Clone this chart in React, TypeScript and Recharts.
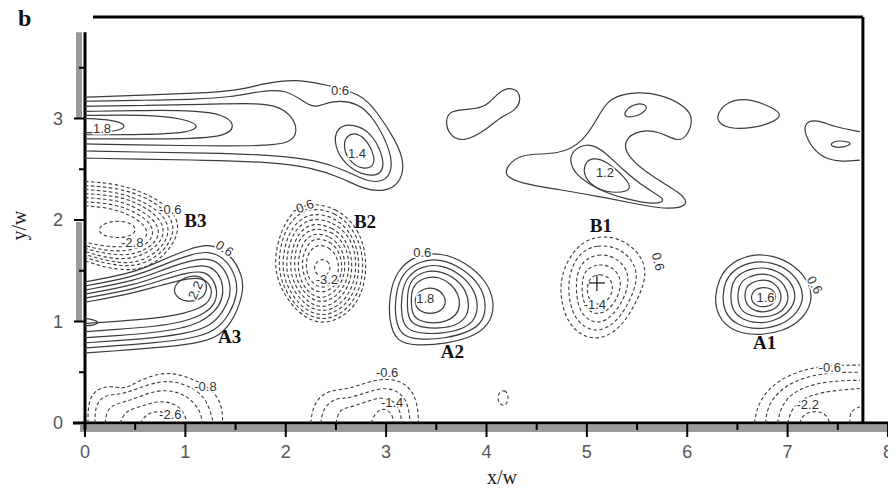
import React from "react";
import { ComposedChart, Line, XAxis, YAxis, Scatter, ReferenceLine } from "recharts";

type Pt = [number, number];

// ---- positive contours (solid) ----
// upper band, open at the left edge
const bandL1: Pt[] = [[0, 3.21], [0.6, 3.23], [1.1, 3.25], [1.5, 3.27], [1.8, 3.35], [2.1, 3.39], [2.42, 3.33], [2.75, 3.24], [2.9, 3.08], [3.1, 2.78], [3.19, 2.55], [3.13, 2.35], [2.98, 2.28], [2.78, 2.3], [2.55, 2.42], [2.25, 2.52], [1.85, 2.57], [1.2, 2.59], [0.5, 2.6], [0, 2.61]];
const bandL2: Pt[] = [[0, 3.17], [0.6, 3.18], [1.1, 3.19], [1.45, 3.21], [1.75, 3.27], [2.0, 3.29], [2.2, 3.15], [2.3, 3.1], [2.45, 3.18], [2.72, 3.16], [2.88, 3.0], [3.03, 2.72], [3.07, 2.5], [2.98, 2.37], [2.8, 2.38], [2.6, 2.49], [2.3, 2.59], [1.9, 2.64], [1.2, 2.66], [0.5, 2.67], [0, 2.68]];
const bandL3: Pt[] = [[0, 3.12], [0.6, 3.13], [1.2, 3.14], [1.6, 3.15], [1.9, 3.14], [2.07, 3.02], [2.12, 2.87], [2.05, 2.76], [1.8, 2.73], [1.2, 2.73], [0.5, 2.74], [0, 2.75]];
const bandL4: Pt[] = [[0, 3.07], [0.6, 3.08], [1.1, 3.08], [1.38, 3.04], [1.5, 2.94], [1.42, 2.83], [1.1, 2.8], [0.5, 2.8], [0, 2.8]];
const bandL5: Pt[] = [[0, 3.03], [0.6, 3.04], [0.98, 3.0], [1.15, 2.93], [1.05, 2.86], [0.6, 2.84], [0, 2.84]];
const bandL6: Pt[] = [[0, 3.0], [0.25, 2.99], [0.42, 2.94], [0.36, 2.88], [0.1, 2.86], [0, 2.86]];
const b2Ring2: Pt[] = [[2.5, 2.92], [2.68, 2.95], [2.85, 2.86], [2.96, 2.66], [2.98, 2.5], [2.9, 2.43], [2.75, 2.45], [2.6, 2.54], [2.48, 2.72]];
const b2Ring1: Pt[] = [[2.6, 2.84], [2.72, 2.86], [2.82, 2.77], [2.89, 2.62], [2.87, 2.52], [2.77, 2.5], [2.65, 2.56], [2.57, 2.7]];

// upper right blobs
const blobWest: Pt[] = [[3.59, 2.99], [3.64, 3.08], [3.83, 3.09], [4.0, 3.11], [4.13, 3.28], [4.28, 3.31], [4.35, 3.21], [4.3, 3.08], [4.13, 3.01], [4.0, 2.89], [3.77, 2.76], [3.62, 2.84]];
const b1Outer: Pt[] = [[4.2, 2.52], [4.33, 2.66], [4.73, 2.64], [4.96, 2.77], [5.1, 2.99], [5.2, 3.18], [5.4, 3.26], [5.73, 3.25], [6.0, 3.11], [6.06, 2.99], [6.0, 2.82], [5.9, 2.77], [5.73, 2.87], [5.53, 2.89], [5.36, 2.79], [5.4, 2.62], [5.66, 2.42], [5.93, 2.27], [6.03, 2.15], [5.83, 2.1], [5.53, 2.15], [5.13, 2.23], [4.73, 2.3], [4.33, 2.36], [4.18, 2.44]];
const b1Hook: Pt[] = [[5.37, 3.06], [5.45, 3.14], [5.58, 3.15], [5.61, 3.09], [5.5, 3.02], [5.38, 3.01]];
const b1Ring2: Pt[] = [[4.85, 2.68], [5.0, 2.76], [5.15, 2.7], [5.35, 2.5], [5.6, 2.3], [5.8, 2.2], [5.7, 2.15], [5.4, 2.2], [5.1, 2.3], [4.88, 2.45], [4.83, 2.58]];
const b1Ring3: Pt[] = [[4.97, 2.55], [5.05, 2.62], [5.2, 2.58], [5.38, 2.42], [5.46, 2.3], [5.3, 2.26], [5.1, 2.3], [4.97, 2.42]];
const blobEast: Pt[] = [[6.3, 3.05], [6.4, 3.17], [6.6, 3.2], [6.8, 3.13], [6.95, 3.05], [6.88, 2.97], [6.65, 2.9], [6.4, 2.9], [6.3, 2.97]];
const blobEdge: Pt[] = [[7.72, 2.87], [7.45, 2.92], [7.3, 2.99], [7.15, 2.96], [7.19, 2.79], [7.32, 2.62], [7.52, 2.57], [7.72, 2.59]];
const blobEdgeIn: Pt[] = [[7.42, 2.75], [7.5, 2.79], [7.67, 2.76], [7.55, 2.71], [7.45, 2.72]];

// A3, open at the left edge
const a3R1: Pt[] = [[0, 1.39], [0.5, 1.48], [0.8, 1.62], [1.05, 1.72], [1.25, 1.77], [1.45, 1.67], [1.57, 1.45], [1.58, 1.3], [1.5, 1.05], [1.35, 0.85], [1.1, 0.78], [0.7, 0.74], [0.3, 0.71], [0, 0.69]];
const a3R2: Pt[] = [[0, 1.35], [0.5, 1.44], [0.8, 1.57], [1.05, 1.66], [1.25, 1.7], [1.42, 1.6], [1.51, 1.42], [1.52, 1.28], [1.45, 1.08], [1.3, 0.9], [1.05, 0.83], [0.7, 0.79], [0.3, 0.76], [0, 0.74]];
const a3R3: Pt[] = [[0, 1.31], [0.5, 1.4], [0.8, 1.52], [1.05, 1.6], [1.25, 1.63], [1.38, 1.54], [1.45, 1.38], [1.45, 1.25], [1.38, 1.1], [1.25, 0.95], [1.0, 0.88], [0.7, 0.84], [0.3, 0.81], [0, 0.79]];
const a3R4: Pt[] = [[0, 1.27], [0.5, 1.36], [0.8, 1.47], [1.05, 1.54], [1.22, 1.56], [1.33, 1.48], [1.38, 1.35], [1.37, 1.22], [1.3, 1.1], [1.15, 0.99], [0.95, 0.93], [0.7, 0.89], [0.3, 0.86], [0, 0.84]];
const a3R5: Pt[] = [[0, 1.23], [0.5, 1.32], [0.8, 1.42], [1.02, 1.48], [1.18, 1.5], [1.28, 1.42], [1.32, 1.3], [1.3, 1.18], [1.2, 1.08], [1.0, 1.0], [0.7, 0.95], [0.3, 0.92], [0, 0.9]];
const a3R6: Pt[] = [[0, 1.19], [0.4, 1.26], [0.7, 1.34], [0.95, 1.41], [1.15, 1.44], [1.25, 1.37], [1.27, 1.26], [1.2, 1.15], [1.0, 1.08], [0.7, 1.03], [0.3, 1.0], [0, 0.98]];
const a3Edge: Pt[] = [[0, 1.03], [0.08, 1.02], [0.15, 0.99], [0.08, 0.96], [0, 0.96]];
const a3Core: Pt[] = [[0.88, 1.33], [0.95, 1.42], [1.1, 1.46], [1.2, 1.42], [1.22, 1.3], [1.15, 1.21], [1.0, 1.19], [0.9, 1.25]];

// A2
const a2R1: Pt[] = [[3.1, 1.5], [3.3, 1.66], [3.55, 1.68], [3.8, 1.58], [4.0, 1.4], [4.08, 1.2], [4.05, 1.0], [3.9, 0.86], [3.6, 0.78], [3.3, 0.76], [3.1, 0.8], [3.03, 1.0], [3.03, 1.25]];
const a2R2: Pt[] = [[3.15, 1.47], [3.33, 1.6], [3.55, 1.62], [3.77, 1.52], [3.94, 1.36], [4.0, 1.18], [3.97, 1.0], [3.84, 0.9], [3.58, 0.83], [3.32, 0.82], [3.15, 0.86], [3.09, 1.02], [3.09, 1.25]];
const a2R3: Pt[] = [[3.2, 1.44], [3.36, 1.55], [3.55, 1.56], [3.74, 1.47], [3.87, 1.33], [3.92, 1.17], [3.89, 1.02], [3.78, 0.93], [3.56, 0.88], [3.35, 0.88], [3.2, 0.92], [3.15, 1.05], [3.15, 1.26]];
const a2R4: Pt[] = [[3.24, 1.41], [3.38, 1.5], [3.54, 1.5], [3.7, 1.42], [3.8, 1.3], [3.83, 1.16], [3.8, 1.04], [3.7, 0.96], [3.53, 0.93], [3.37, 0.94], [3.25, 0.98], [3.21, 1.08], [3.21, 1.27]];
const a2R5: Pt[] = [[3.28, 1.37], [3.4, 1.44], [3.53, 1.44], [3.65, 1.37], [3.72, 1.27], [3.74, 1.16], [3.7, 1.06], [3.6, 1.0], [3.47, 0.98], [3.35, 1.0], [3.27, 1.05], [3.25, 1.15], [3.25, 1.28]];
const a2R6: Pt[] = [[3.3, 1.27], [3.38, 1.33], [3.5, 1.33], [3.58, 1.26], [3.6, 1.18], [3.55, 1.1], [3.44, 1.07], [3.33, 1.1], [3.28, 1.18]];

// A1
const a1R1: Pt[] = [[6.4, 1.55], [6.6, 1.66], [6.85, 1.66], [7.08, 1.55], [7.22, 1.38], [7.25, 1.2], [7.15, 1.02], [6.95, 0.9], [6.7, 0.86], [6.45, 0.9], [6.3, 1.05], [6.27, 1.25], [6.32, 1.42]];
const a1R2: Pt[] = [[6.45, 1.5], [6.62, 1.59], [6.84, 1.59], [7.03, 1.5], [7.14, 1.35], [7.16, 1.2], [7.07, 1.05], [6.9, 0.95], [6.7, 0.92], [6.5, 0.96], [6.37, 1.08], [6.35, 1.26], [6.38, 1.4]];
const a1R3: Pt[] = [[6.5, 1.46], [6.65, 1.53], [6.83, 1.53], [6.98, 1.45], [7.07, 1.33], [7.08, 1.2], [7.0, 1.08], [6.86, 1.0], [6.7, 0.98], [6.54, 1.02], [6.44, 1.12], [6.43, 1.27], [6.45, 1.38]];
const a1R4: Pt[] = [[6.55, 1.41], [6.68, 1.47], [6.82, 1.47], [6.94, 1.4], [7.0, 1.3], [7.01, 1.2], [6.95, 1.1], [6.84, 1.05], [6.71, 1.04], [6.58, 1.07], [6.51, 1.15], [6.5, 1.27], [6.52, 1.35]];
const a1R5: Pt[] = [[6.6, 1.36], [6.7, 1.41], [6.82, 1.41], [6.9, 1.35], [6.94, 1.27], [6.93, 1.18], [6.87, 1.12], [6.78, 1.09], [6.68, 1.1], [6.6, 1.15], [6.57, 1.23], [6.58, 1.31]];
const a1R6: Pt[] = [[6.65, 1.3], [6.73, 1.34], [6.84, 1.33], [6.89, 1.26], [6.87, 1.18], [6.79, 1.14], [6.69, 1.15], [6.63, 1.21]];

// ---- negative contours (dashed) ----
const b3R1: Pt[] = [[0, 2.38], [0.3, 2.36], [0.6, 2.27], [0.85, 2.12], [0.95, 1.95], [0.88, 1.75], [0.7, 1.57], [0.5, 1.5], [0.25, 1.52], [0.05, 1.58], [0, 1.6]];
const b3R1b: Pt[] = [[0, 2.34], [0.3, 2.32], [0.58, 2.24], [0.82, 2.09], [0.9, 1.92], [0.83, 1.74], [0.66, 1.6], [0.48, 1.54], [0.25, 1.56], [0, 1.63]];
const b3R2: Pt[] = [[0, 2.3], [0.3, 2.28], [0.55, 2.2], [0.78, 2.06], [0.85, 1.9], [0.78, 1.74], [0.62, 1.62], [0.45, 1.57], [0.25, 1.59], [0, 1.66]];
const b3R2b: Pt[] = [[0, 2.26], [0.3, 2.24], [0.53, 2.17], [0.74, 2.03], [0.8, 1.88], [0.73, 1.75], [0.57, 1.65], [0.4, 1.61], [0.2, 1.63], [0, 1.69]];
const b3R3: Pt[] = [[0, 2.22], [0.3, 2.2], [0.5, 2.13], [0.7, 2.0], [0.75, 1.87], [0.68, 1.75], [0.52, 1.67], [0.35, 1.65], [0.15, 1.68], [0, 1.72]];
const b3R3b: Pt[] = [[0, 2.18], [0.28, 2.16], [0.48, 2.09], [0.65, 1.98], [0.69, 1.86], [0.62, 1.76], [0.46, 1.7], [0.28, 1.69], [0.1, 1.72], [0, 1.75]];
const b3R4: Pt[] = [[0, 2.14], [0.25, 2.12], [0.45, 2.05], [0.6, 1.95], [0.63, 1.85], [0.55, 1.77], [0.4, 1.73], [0.2, 1.74], [0, 1.78]];
const b3Core: Pt[] = [[0.15, 1.95], [0.3, 2.0], [0.48, 1.97], [0.52, 1.88], [0.4, 1.82], [0.22, 1.83], [0.13, 1.88]];

const b2nR1: Pt[] = [[2.25, 2.17], [2.5, 2.12], [2.7, 1.95], [2.8, 1.7], [2.8, 1.4], [2.7, 1.15], [2.5, 1.0], [2.3, 0.98], [2.1, 1.1], [1.93, 1.35], [1.88, 1.6], [1.95, 1.9], [2.08, 2.1]];
const b2nR1b: Pt[] = [[2.26, 2.12], [2.49, 2.08], [2.67, 1.92], [2.77, 1.69], [2.77, 1.41], [2.67, 1.17], [2.48, 1.03], [2.3, 1.02], [2.11, 1.13], [1.96, 1.36], [1.92, 1.6], [1.98, 1.88], [2.1, 2.05]];
const b2nR2: Pt[] = [[2.27, 2.07], [2.48, 2.03], [2.64, 1.89], [2.73, 1.68], [2.73, 1.42], [2.64, 1.2], [2.47, 1.07], [2.3, 1.06], [2.13, 1.16], [1.99, 1.38], [1.96, 1.6], [2.02, 1.86], [2.13, 2.0]];
const b2nR2b: Pt[] = [[2.28, 2.02], [2.47, 1.98], [2.62, 1.86], [2.7, 1.67], [2.7, 1.43], [2.61, 1.23], [2.46, 1.11], [2.3, 1.1], [2.15, 1.2], [2.02, 1.4], [2.0, 1.6], [2.05, 1.83], [2.15, 1.96]];
const b2nR3: Pt[] = [[2.29, 1.97], [2.46, 1.93], [2.59, 1.82], [2.66, 1.65], [2.66, 1.44], [2.58, 1.26], [2.44, 1.15], [2.31, 1.14], [2.17, 1.23], [2.06, 1.41], [2.04, 1.6], [2.09, 1.81], [2.18, 1.92]];
const b2nR3b: Pt[] = [[2.3, 1.92], [2.45, 1.89], [2.57, 1.79], [2.63, 1.64], [2.63, 1.45], [2.55, 1.29], [2.43, 1.2], [2.31, 1.19], [2.19, 1.27], [2.1, 1.42], [2.08, 1.6], [2.12, 1.79], [2.2, 1.88]];
const b2nR4: Pt[] = [[2.31, 1.87], [2.44, 1.84], [2.54, 1.75], [2.59, 1.62], [2.59, 1.46], [2.52, 1.32], [2.41, 1.24], [2.31, 1.23], [2.21, 1.3], [2.13, 1.44], [2.12, 1.6], [2.16, 1.76], [2.23, 1.84]];
const b2nR4b: Pt[] = [[2.32, 1.82], [2.44, 1.79], [2.52, 1.71], [2.56, 1.59], [2.56, 1.46], [2.49, 1.35], [2.4, 1.29], [2.3, 1.29], [2.22, 1.36], [2.17, 1.48], [2.16, 1.62], [2.21, 1.74], [2.26, 1.8]];
const b2nR5: Pt[] = [[2.33, 1.76], [2.43, 1.73], [2.5, 1.66], [2.53, 1.56], [2.52, 1.45], [2.46, 1.37], [2.38, 1.33], [2.3, 1.35], [2.23, 1.42], [2.2, 1.53], [2.21, 1.64], [2.26, 1.72]];
const b2nR6: Pt[] = [[2.35, 1.62], [2.42, 1.6], [2.45, 1.53], [2.42, 1.46], [2.35, 1.44], [2.29, 1.48], [2.28, 1.56]];

const b1nR1: Pt[] = [[4.9, 1.75], [5.1, 1.85], [5.35, 1.82], [5.55, 1.65], [5.6, 1.45], [5.5, 1.2], [5.35, 0.95], [5.15, 0.82], [4.95, 0.85], [4.8, 1.0], [4.73, 1.25], [4.75, 1.5]];
const b1nR2: Pt[] = [[4.93, 1.68], [5.1, 1.76], [5.32, 1.73], [5.47, 1.59], [5.51, 1.42], [5.43, 1.2], [5.3, 1.0], [5.14, 0.9], [4.98, 0.93], [4.86, 1.06], [4.81, 1.28], [4.83, 1.5]];
const b1nR3: Pt[] = [[4.96, 1.6], [5.11, 1.67], [5.28, 1.64], [5.4, 1.52], [5.42, 1.38], [5.36, 1.2], [5.25, 1.05], [5.13, 0.98], [5.01, 1.01], [4.92, 1.12], [4.89, 1.3], [4.9, 1.47]];
const b1nR4: Pt[] = [[5.0, 1.52], [5.12, 1.57], [5.25, 1.54], [5.33, 1.45], [5.34, 1.34], [5.29, 1.2], [5.2, 1.1], [5.1, 1.07], [5.02, 1.1], [4.96, 1.2], [4.95, 1.33], [4.96, 1.44]];
const b1nR5: Pt[] = [[5.04, 1.44], [5.13, 1.47], [5.22, 1.44], [5.26, 1.36], [5.25, 1.27], [5.19, 1.19], [5.1, 1.16], [5.03, 1.2], [5.0, 1.29], [5.01, 1.38]];

// near the floor, open at y = 0
const blR1: Pt[] = [[0.03, 0], [0.03, 0.2], [0.1, 0.33], [0.25, 0.37], [0.4, 0.33], [0.5, 0.4], [0.75, 0.5], [0.95, 0.48], [1.15, 0.4], [1.3, 0.3], [1.37, 0.15], [1.37, 0]];
const blR2: Pt[] = [[0.1, 0], [0.1, 0.18], [0.2, 0.28], [0.35, 0.28], [0.5, 0.33], [0.75, 0.42], [0.95, 0.4], [1.1, 0.33], [1.22, 0.22], [1.28, 0]];
const blR3: Pt[] = [[0.2, 0], [0.22, 0.15], [0.35, 0.2], [0.5, 0.24], [0.72, 0.33], [0.92, 0.31], [1.05, 0.24], [1.15, 0.12], [1.17, 0]];
const blR4: Pt[] = [[0.35, 0], [0.4, 0.12], [0.55, 0.16], [0.72, 0.22], [0.88, 0.2], [0.98, 0.12], [1.02, 0]];
const blR5: Pt[] = [[0.55, 0], [0.62, 0.1], [0.75, 0.12], [0.85, 0.08], [0.88, 0]];
const bmR1: Pt[] = [[2.25, 0], [2.27, 0.18], [2.4, 0.32], [2.6, 0.33], [2.75, 0.38], [2.95, 0.44], [3.15, 0.42], [3.28, 0.3], [3.32, 0.12], [3.32, 0]];
const bmR2: Pt[] = [[2.35, 0], [2.37, 0.15], [2.5, 0.25], [2.62, 0.24], [2.8, 0.3], [2.97, 0.35], [3.12, 0.32], [3.22, 0.2], [3.24, 0]];
const bmR3: Pt[] = [[2.5, 0], [2.53, 0.13], [2.62, 0.15], [2.78, 0.2], [2.95, 0.26], [3.08, 0.22], [3.15, 0.1], [3.15, 0]];
const bmR4: Pt[] = [[2.85, 0], [2.9, 0.12], [3.0, 0.15], [3.07, 0.07], [3.07, 0]];
const brR1: Pt[] = [[6.67, 0], [6.7, 0.18], [6.82, 0.35], [7.0, 0.47], [7.25, 0.55], [7.5, 0.57], [7.72, 0.57]];
const brR2: Pt[] = [[6.78, 0], [6.8, 0.17], [6.92, 0.32], [7.08, 0.42], [7.3, 0.48], [7.5, 0.5], [7.72, 0.5]];
const brR3: Pt[] = [[6.9, 0], [6.93, 0.15], [7.02, 0.27], [7.15, 0.35], [7.35, 0.4], [7.55, 0.42], [7.72, 0.42]];
const brR4: Pt[] = [[7.0, 0], [7.03, 0.12], [7.12, 0.22], [7.25, 0.28], [7.45, 0.32], [7.72, 0.34]];
const brR5: Pt[] = [[7.12, 0], [7.15, 0.08], [7.25, 0.12], [7.38, 0.1], [7.42, 0]];
const brEdge: Pt[] = [[7.62, 0], [7.62, 0.12], [7.72, 0.16]];
const dot42: Pt[] = [[4.13, 0.3], [4.18, 0.33], [4.22, 0.28], [4.21, 0.2], [4.17, 0.16], [4.12, 0.2], [4.11, 0.26]];

const solidOpen = [bandL1, bandL2, bandL3, bandL4, bandL5, bandL6, blobEdge, a3R1, a3R2, a3R3, a3R4, a3R5, a3R6, a3Edge];
const solidClosed = [b2Ring2, b2Ring1, blobWest, b1Outer, b1Hook, b1Ring2, b1Ring3, blobEast, blobEdgeIn, a3Core, a2R1, a2R2, a2R3, a2R4, a2R5, a2R6, a1R1, a1R2, a1R3, a1R4, a1R5, a1R6];
const dashedOpen = [b3R1, b3R1b, b3R2, b3R2b, b3R3, b3R3b, b3R4, blR1, blR2, blR3, blR4, blR5, bmR1, bmR2, bmR3, bmR4, brR1, brR2, brR3, brR4, brR5, brEdge];
const dashedClosed = [b3Core, b2nR1, b2nR1b, b2nR2, b2nR2b, b2nR3, b2nR3b, b2nR4, b2nR4b, b2nR5, b2nR6, b1nR1, b1nR2, b1nR3, b1nR4, b1nR5, dot42];

// structure names
const regionNames = ["B3", "B2", "B1", "A3", "A2", "A1"];
const regionX = [1.1, 2.79, 5.14, 1.44, 3.66, 6.77];
const regionY = [2.0, 1.99, 1.95, 0.85, 0.7, 0.79];

// contour level labels
const levelText = ["0.6", "1.8", "1.4", "1.2", "-0.6", "-2.8", "0.6", "2.2", "-0.6", "-3.2", "0.6", "1.8", "-1.4", "0.6", "1.6", "0.6", "-0.8", "-2.6", "-0.6", "-1.4", "-0.6", "-2.2"];
const levelX = [2.54, 0.17, 2.71, 5.18, 0.85, 0.47, 1.39, 1.1, 2.17, 2.41, 3.36, 3.39, 5.08, 5.71, 6.78, 7.27, 1.2, 0.85, 3.01, 3.06, 7.42, 7.2];
const levelY = [3.28, 2.9, 2.66, 2.47, 2.1, 1.78, 1.72, 1.31, 2.13, 1.41, 1.68, 1.23, 1.17, 1.59, 1.24, 1.36, 0.36, 0.08, 0.5, 0.2, 0.55, 0.18];
const levelAngle = [0, 0, 0, 0, 0, 0, 35, -65, -20, 0, 0, 0, 0, 75, 0, 60, 0, 0, 0, 0, 0, 0];

// centre marker of B1
const markerX = [5.1];
const markerY = [1.38];

const xTicks = [0, 0.5, 1, 1.5, 2, 2.5, 3, 3.5, 4, 4.5, 5, 5.5, 6, 6.5, 7, 7.5, 8];
const yTicks = [0, 0.5, 1, 1.5, 2, 2.5, 3, 3.5];

const toRows = (c: Pt[]) => c.map(([x, y]) => ({ x, y }));
const regionRows = regionNames.map((t, i) => ({ x: regionX[i], y: regionY[i], t }));
const levelRows = levelText.map((t, i) => ({ x: levelX[i], y: levelY[i], t, a: levelAngle[i] }));
const markerRows = markerX.map((x, i) => ({ x, y: markerY[i] }));

const INK = "#3c3c3c";
const SANS = "'Liberation Sans', Arial, sans-serif";
const SERIF = "'Liberation Serif', 'Times New Roman', serif";

const XTick = (props: any) => {
  const { x, y, payload } = props;
  const major = Number.isInteger(payload.value);
  return (
    <g>
      <line x1={x} y1={y} x2={x} y2={y + (major ? 14 : 7)} stroke="#000" strokeWidth={2} />
      {major && (
        <text x={x} y={y + 35} textAnchor="middle" fontSize={18} fill="#555" fontFamily={SANS}>
          {payload.value}
        </text>
      )}
    </g>
  );
};

const YTick = (props: any) => {
  const { x, y, payload } = props;
  const major = Number.isInteger(payload.value);
  return (
    <g>
      <line x1={x - (major ? 11 : 6)} y1={y} x2={x} y2={y} stroke="#000" strokeWidth={2} />
      {major && (
        <text x={x - 22} y={y + 6} textAnchor="end" fontSize={18} fill="#555" fontFamily={SANS}>
          {payload.value}
        </text>
      )}
    </g>
  );
};

const RegionLabel = (p: any) => (
  <text x={p.cx} y={p.cy} textAnchor="middle" dominantBaseline="central" fontSize={19} fontWeight="bold" fontFamily={SERIF} fill="#111">
    {p.payload.t}
  </text>
);

const LevelLabel = (p: any) => (
  <text
    x={p.cx}
    y={p.cy}
    textAnchor="middle"
    dominantBaseline="central"
    fontSize={13}
    fontFamily={SANS}
    fill="#333"
    stroke="#fff"
    strokeWidth={3}
    paintOrder="stroke"
    transform={`rotate(${p.payload.a} ${p.cx} ${p.cy})`}
  >
    {p.payload.t}
  </text>
);

const PlusMarker = (p: any) => (
  <g stroke="#222" strokeWidth={1.3}>
    <line x1={p.cx - 8} y1={p.cy} x2={p.cx + 8} y2={p.cy} />
    <line x1={p.cx} y1={p.cy - 8} x2={p.cx} y2={p.cy + 8} />
  </g>
);

export default function App() {
  return (
    <div style={{ position: "relative", width: 888, height: 485, background: "#fff" }}>
      <ComposedChart width={888} height={485} margin={{ top: 9, right: 8, left: 0, bottom: 0 }}>
        <XAxis
          type="number"
          dataKey="x"
          domain={[0, 8]}
          ticks={xTicks}
          interval={0}
          axisLine={false}
          tickLine={false}
          tickSize={0}
          tickMargin={0}
          tick={<XTick />}
          height={70}
        />
        <YAxis
          type="number"
          dataKey="y"
          domain={[0, 4]}
          ticks={yTicks}
          interval={0}
          axisLine={false}
          tickLine={false}
          tickSize={0}
          tickMargin={0}
          tick={<YTick />}
          width={77}
        />

        {/* axis shadows, axes and frame */}
        <ReferenceLine segment={[{ x: -0.05, y: -0.055 }, { x: 8, y: -0.055 }]} stroke="#9a9a9a" strokeWidth={7} ifOverflow="visible" />
        <ReferenceLine segment={[{ x: -0.06, y: 3.0 }, { x: -0.06, y: 3.85 }]} stroke="#9a9a9a" strokeWidth={6} ifOverflow="visible" />
        <ReferenceLine segment={[{ x: -0.06, y: 1.0 }, { x: -0.06, y: 1.98 }]} stroke="#9a9a9a" strokeWidth={6} ifOverflow="visible" />
        <ReferenceLine segment={[{ x: -0.12, y: 0 }, { x: 8, y: 0 }]} stroke="#000" strokeWidth={3} ifOverflow="visible" />
        <ReferenceLine segment={[{ x: 0, y: -0.07 }, { x: 0, y: 3.85 }]} stroke="#000" strokeWidth={3} ifOverflow="visible" />
        <ReferenceLine segment={[{ x: 0.08, y: 4 }, { x: 7.75, y: 4 }]} stroke="#000" strokeWidth={3} ifOverflow="visible" />
        <ReferenceLine segment={[{ x: 7.75, y: 0 }, { x: 7.75, y: 4 }]} stroke="#000" strokeWidth={3} ifOverflow="visible" />

        {solidOpen.map((c, i) => (
          <Line key={"so" + i} data={toRows(c)} dataKey="y" type="basis" stroke={INK} strokeWidth={1.2} dot={false} activeDot={false} isAnimationActive={false} />
        ))}
        {solidClosed.map((c, i) => (
          <Line key={"sc" + i} data={toRows(c)} dataKey="y" type="basisClosed" stroke={INK} strokeWidth={1.2} dot={false} activeDot={false} isAnimationActive={false} />
        ))}
        {dashedOpen.map((c, i) => (
          <Line key={"do" + i} data={toRows(c)} dataKey="y" type="basis" stroke={INK} strokeWidth={1.1} strokeDasharray="3.5 2.5" dot={false} activeDot={false} isAnimationActive={false} />
        ))}
        {dashedClosed.map((c, i) => (
          <Line key={"dc" + i} data={toRows(c)} dataKey="y" type="basisClosed" stroke={INK} strokeWidth={1.1} strokeDasharray="3.5 2.5" dot={false} activeDot={false} isAnimationActive={false} />
        ))}

        <Scatter data={markerRows} shape={<PlusMarker />} isAnimationActive={false} />
        <Scatter data={levelRows} shape={<LevelLabel />} isAnimationActive={false} />
        <Scatter data={regionRows} shape={<RegionLabel />} isAnimationActive={false} />
      </ComposedChart>

      <div style={{ position: "absolute", left: 10, top: -3, fontFamily: SERIF, fontWeight: "bold", fontSize: 24, color: "#111" }}>b</div>
      <div style={{ position: "absolute", left: 479, top: 458, fontFamily: SERIF, fontSize: 20, color: "#222" }}>x/w</div>
      <div
        style={{
          position: "absolute",
          left: -4,
          top: 206,
          fontFamily: SERIF,
          fontSize: 20,
          color: "#222",
          transform: "rotate(-90deg)",
          transformOrigin: "center",
        }}
      >
        y/w
      </div>
    </div>
  );
}
